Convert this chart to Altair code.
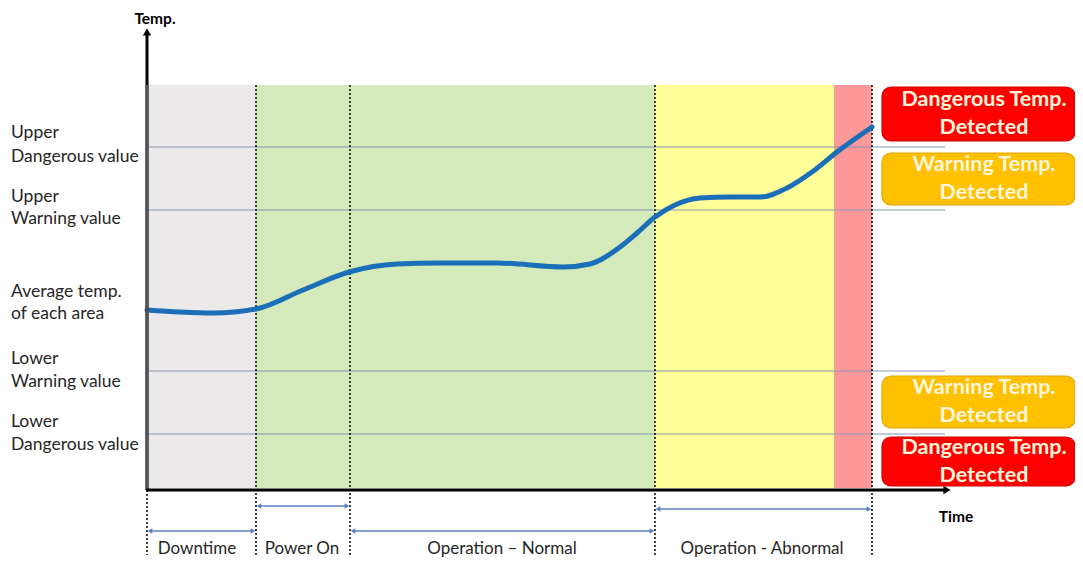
import altair as alt
import pandas as pd

# ---- data (x = time units, y = temperature units) ----
region_start = [147, 256, 350, 655, 834]
region_end = [256, 350, 655, 834, 872]
region_color = ["#ebe9ea", "#d5eabb", "#d5eabb", "#ffff99", "#ff9999"]
region_top = 480
region_bottom = 77

threshold_temp = [418, 355, 194, 131]
threshold_start = 147
threshold_end = 945

phase_bounds = [256, 350, 655, 872]

curve_time = [147, 180, 213, 256, 303, 349, 397, 440, 497, 563, 590, 620, 637, 655, 675, 700, 730, 760, 787, 812, 837, 872]
curve_temp = [255, 253, 252, 256, 275, 293, 301, 302, 302, 298, 301, 318, 332, 348, 360, 367, 368, 368, 377, 393, 413, 438]

left_label_text = ["Upper", "Dangerous value", "Upper", "Warning value",
                   "Average temp.", "of each area", "Lower", "Warning value",
                   "Lower", "Dangerous value"]
left_label_temp = [432, 408, 368, 346, 273, 251, 206, 183, 143, 120]

phase_names = ["Downtime", "Power On", "Operation \u2013 Normal", "Operation - Abnormal"]
phase_center = [197, 302, 502, 762]
phase_arrow_start = [150, 259, 353, 658]
phase_arrow_end = [253, 347, 652, 869]
phase_arrow_temp = [34, 59, 34, 56]

box_top = [478, 412, 189, 128]
box_bottom = [424, 360, 137, 79]
box_fill = ["#ff0000", "#ffc000", "#ffc000", "#ff0000"]
box_stroke = ["#d00000", "#e0a800", "#e0a800", "#d00000"]
box_line1 = ["Dangerous Temp.", "Warning Temp.", "Warning Temp.", "Dangerous Temp."]
box_line2 = ["Detected", "Detected", "Detected", "Detected"]
box_left = 882
box_right = 1075
box_center = 984

FONT = "Lato"

xs = alt.Scale(domain=[8, 1075])
ys = alt.Scale(domain=[8, 557])
X = lambda f: alt.X(f, type="quantitative", scale=xs, axis=None)
Y = lambda f: alt.Y(f, type="quantitative", scale=ys, axis=None)

regions = pd.DataFrame({"x": region_start, "x2": region_end, "c": region_color,
                        "y": [region_bottom] * 5, "y2": [region_top] * 5})
reg = alt.Chart(regions).mark_rect().encode(
    x=X("x"), x2="x2", y=Y("y"), y2="y2", color=alt.Color("c:N", scale=None))

thr = pd.DataFrame({"y": threshold_temp, "x": [threshold_start] * 4, "x2": [threshold_end] * 4})
thr_l = alt.Chart(thr).mark_rule(color="#8497b0", strokeWidth=1).encode(x=X("x"), x2="x2", y=Y("y"))

dots = pd.DataFrame({"x": phase_bounds + [147], "y": [region_top] * 4 + [75], "y2": [10] * 5})
dot_l = alt.Chart(dots).mark_rule(color="#111111", strokeWidth=1.6, strokeDash=[2, 2]).encode(
    x=X("x"), y=Y("y"), y2="y2")

curve = pd.DataFrame({"t": curve_time, "v": curve_temp})
crv = alt.Chart(curve).mark_line(color="#1a6fb8", strokeWidth=5, interpolate="monotone",
                                 strokeCap="round").encode(x=X("t"), y=Y("v"))

yaxis = pd.DataFrame({"x": [147], "y": [75], "y2": [532]})
yax = alt.Chart(yaxis).mark_rule(color="#000000", strokeWidth=3).encode(x=X("x"), y=Y("y"), y2="y2")
yax_in = alt.Chart(pd.DataFrame({"x": [147], "y": [75], "y2": [region_top]})).mark_rule(
    color="#555555", strokeWidth=3).encode(x=X("x"), y=Y("y"), y2="y2")
xaxis = pd.DataFrame({"x": [146], "x2": [944], "y": [75]})
xax = alt.Chart(xaxis).mark_rule(color="#000000", strokeWidth=3).encode(x=X("x"), x2="x2", y=Y("y"))
head_up = alt.Chart(pd.DataFrame({"x": [147], "y": [533]})).mark_point(
    shape="triangle-up", filled=True, color="#000000", size=70, opacity=1).encode(x=X("x"), y=Y("y"))
head_right = alt.Chart(pd.DataFrame({"x": [947], "y": [75]})).mark_point(
    shape="triangle-right", filled=True, color="#000000", size=70, opacity=1).encode(x=X("x"), y=Y("y"))

pa = pd.DataFrame({"x": phase_arrow_start, "x2": phase_arrow_end, "y": phase_arrow_temp})
pa_l = alt.Chart(pa).mark_rule(color="#5b7fc0", strokeWidth=1.3).encode(x=X("x"), x2="x2", y=Y("y"))
pa_left = alt.Chart(pa).mark_point(shape="triangle-left", filled=True, color="#5b7fc0", size=30,
                                   opacity=1).encode(x=X("x"), y=Y("y"))
pa_right = alt.Chart(pa).mark_point(shape="triangle-right", filled=True, color="#5b7fc0", size=30,
                                    opacity=1).encode(x=X("x2"), y=Y("y"))

pn = pd.DataFrame({"x": phase_center, "t": phase_names, "y": [16] * 4})
pn_t = alt.Chart(pn).mark_text(font=FONT, fontSize=17, color="#262626").encode(
    x=X("x"), y=Y("y"), text="t:N")

ll = pd.DataFrame({"t": left_label_text, "y": left_label_temp, "x": [11] * len(left_label_text)})
ll_t = alt.Chart(ll).mark_text(font=FONT, fontSize=17.5, align="left", color="#262626").encode(
    x=X("x"), y=Y("y"), text="t:N")

ax_t = alt.Chart(pd.DataFrame({"x": [155, 956], "y": [546, 48], "t": ["Temp.", "Time"]})).mark_text(
    font=FONT, fontSize=15.5, fontWeight="bold", color="#000000").encode(x=X("x"), y=Y("y"), text="t:N")

bx = pd.DataFrame({"x": [box_left] * 4, "x2": [box_right] * 4, "y": box_bottom, "y2": box_top,
                   "f": box_fill, "s": box_stroke, "l1": box_line1, "l2": box_line2,
                   "cx": [box_center] * 4,
                   "t1": [(a + b) / 2 + 14 for a, b in zip(box_top, box_bottom)],
                   "t2": [(a + b) / 2 - 14 for a, b in zip(box_top, box_bottom)]})
bx_r = alt.Chart(bx).mark_rect(cornerRadius=9, strokeWidth=1.2).encode(
    x=X("x"), x2="x2", y=Y("y"), y2="y2",
    fill=alt.Fill("f:N", scale=None), stroke=alt.Stroke("s:N", scale=None))
bx_t1 = alt.Chart(bx).mark_text(font=FONT, fontSize=21.5, fontWeight="bold", color="#fff6dc").encode(
    x=X("cx"), y=Y("t1"), text="l1:N")
bx_t2 = alt.Chart(bx).mark_text(font=FONT, fontSize=21.5, fontWeight="bold", color="#fff6dc").encode(
    x=X("cx"), y=Y("t2"), text="l2:N")

chart = alt.layer(reg, thr_l, dot_l, crv, yax, yax_in, xax, head_up, head_right,
                  pa_l, pa_left, pa_right, pn_t, ll_t, ax_t, bx_r, bx_t1, bx_t2).properties(
    width=1067, height=549, padding=0, background="#ffffff",
    autosize=alt.AutoSizeParams(type="none")
).configure_view(stroke=None)

chart.save("out.html", embed_options={"renderer": "svg", "actions": False})
